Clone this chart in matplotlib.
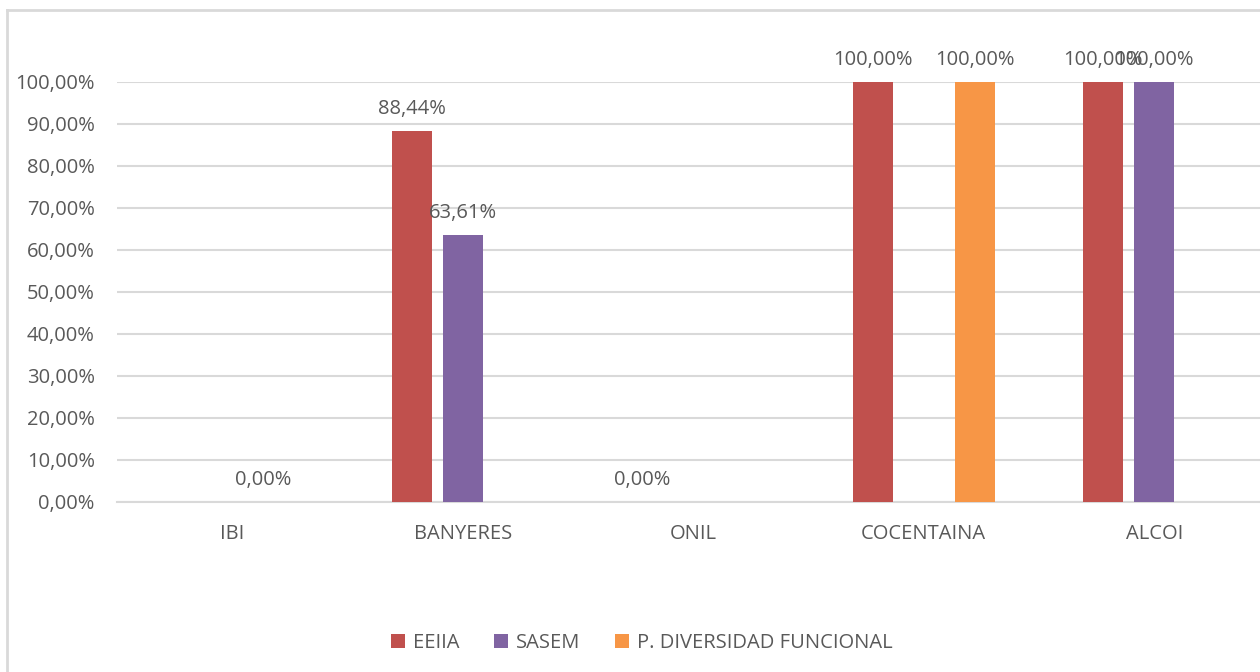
import numpy as np
import matplotlib
matplotlib.use("Agg")
import matplotlib.pyplot as plt
from matplotlib.lines import Line2D
from matplotlib.ticker import FuncFormatter

# data (nan = no bar / no label)
categories = ["IBI", "BANYERES", "ONIL", "COCENTAINA", "ALCOI"]
eeiia = [np.nan, 0.8844, 0.0, 1.0, 1.0]
sasem = [0.0, 0.6361, np.nan, np.nan, 1.0]
diversidad = [np.nan, np.nan, np.nan, 1.0, np.nan]
series_names = ["EEIIA", "SASEM", "P. DIVERSIDAD FUNCIONAL"]
colors = ["#C0504D", "#8064A2", "#F79646"]

plt.rcParams['font.family'] = ['Open Sans', 'DejaVu Sans']
txt = "#595959"
grid = "#D9D9D9"

fig = plt.figure(figsize=(12.6, 6.72), dpi=100)
W, H = 1260.0, 672.0
# plot area runs past the right edge of the picture, as in the original
ax = fig.add_axes([117 / W, (H - 502) / H, (1269.5 - 117) / W, 420 / H])

x = np.arange(len(categories))
width = 40 / 230.5
step = 51 / 230.5
allvals = [eeiia, sasem, diversidad]
for i, vals in enumerate(allvals):
    xs = x + (i - 1) * step
    v = np.array(vals, dtype=float)
    ax.bar(xs, np.nan_to_num(v), width, color=colors[i], label=series_names[i],
           edgecolor="none", zorder=3)
    for j, val in enumerate(v):
        if np.isnan(val):
            continue
        dx = 0
        if categories[j] == "IBI":
            dx = 22  # label nudged right in the original
        ax.annotate(f"{val*100:.2f}%".replace(".", ","), (xs[j], val),
                    xytext=(dx, 12), textcoords="offset points",
                    ha="center", va="baseline", fontsize=14.5, color=txt)

ax.set_xlim(-0.5, len(categories) - 0.5)
ax.set_ylim(0, 1.0)
ax.set_yticks(np.arange(0, 1.01, 0.1))
ax.yaxis.set_major_formatter(FuncFormatter(lambda v, p: f"{v*100:.2f}%".replace(".", ",")))
ax.set_xticks(x)
ax.set_xticklabels(categories)
ax.tick_params(axis="both", length=0, labelsize=14.5, labelcolor=txt)
ax.tick_params(axis="y", pad=16)
ax.tick_params(axis="x", pad=16)
ax.grid(axis="y", color=grid, linewidth=1.5, zorder=0)
ax.set_axisbelow(True)
for s in ["top", "right", "left"]:
    ax.spines[s].set_visible(False)
ax.spines["bottom"].set_color(grid)
ax.spines["bottom"].set_linewidth(1.5)

leg = fig.legend(loc="center", bbox_to_anchor=(642 / W, 1 - 643 / H), ncol=3,
                 frameon=False, fontsize=14.5, handlelength=0.7, handleheight=0.7,
                 handletextpad=0.4, columnspacing=1.7)
for t in leg.get_texts():
    t.set_color(txt)

# chart border (left and top edges visible)
fig.add_artist(Line2D([7 / W, 7 / W], [0, 1 - 10 / H], color=grid, lw=2, transform=fig.transFigure))
fig.add_artist(Line2D([7 / W, 1], [1 - 10 / H, 1 - 10 / H], color=grid, lw=2, transform=fig.transFigure))

fig.savefig("out.png", dpi=100)
